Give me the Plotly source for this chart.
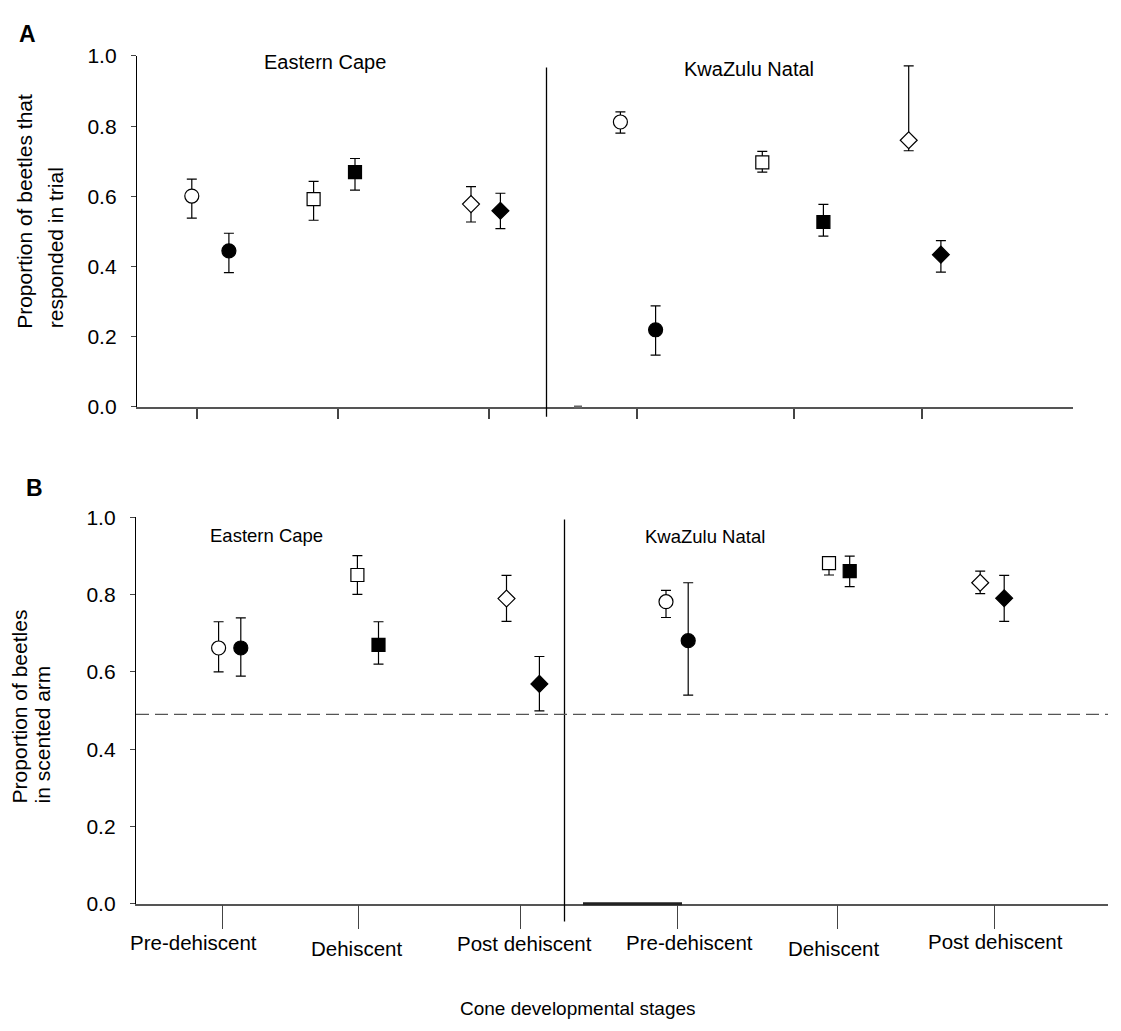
import plotly.graph_objects as go

# ---------------------------------------------------------------
# Data
# ---------------------------------------------------------------
stages = ["Pre-dehiscent", "Dehiscent", "Post dehiscent"]
regions = ["Eastern Cape", "KwaZulu Natal"]

# Point order: for each region, for each stage -> open symbol, filled symbol
# Panel A: proportion of beetles that responded in trial
resp_mean = [0.601, 0.445, 0.592, 0.669, 0.578, 0.559,
             0.812, 0.220, 0.697, 0.527, 0.760, 0.434]
resp_upper = [0.649, 0.495, 0.643, 0.708, 0.628, 0.609,
              0.841, 0.288, 0.728, 0.577, 0.972, 0.474]
resp_lower = [0.538, 0.383, 0.532, 0.618, 0.527, 0.508,
              0.780, 0.148, 0.669, 0.487, 0.730, 0.384]

# Panel B: proportion of beetles in scented arm
scent_mean = [0.662, 0.662, 0.851, 0.670, 0.790, 0.569,
              0.782, 0.681, 0.882, 0.861, 0.831, 0.791]
scent_upper = [0.730, 0.740, 0.901, 0.730, 0.850, 0.640,
               0.811, 0.831, 0.899, 0.900, 0.861, 0.850]
scent_lower = [0.600, 0.589, 0.801, 0.620, 0.731, 0.499,
               0.741, 0.540, 0.851, 0.821, 0.803, 0.731]

chance_level = 0.49
y_ticks = [0.0, 0.2, 0.4, 0.6, 0.8, 1.0]
y_tick_labels = ["0.0", "0.2", "0.4", "0.6", "0.8", "1.0"]

# ---------------------------------------------------------------
# Layout helpers
# ---------------------------------------------------------------
W, H = 1121, 1031
FONT = "Liberation Sans, Arial, Helvetica, sans-serif"


def fx(x):
    return x / W


def fy(y):
    return 1 - y / H


# horizontal placement on each panel's x axis (axis units)
pos_a = [19.18, 22.89, 31.36, 35.50, 47.10, 50.04,
         62.04, 65.56, 76.23, 82.34, 90.87, 94.09]
pos_b = [21.86, 24.08, 35.74, 37.85, 50.65, 53.94,
         66.60, 68.82, 82.90, 84.97, 98.02, 100.42]
ticks_a = [19.73, 33.75, 48.86, 63.67, 79.42, 92.17]
ticks_b = [22.24, 35.89, 52.09, 67.78, 83.72, 99.48]
divider_a = 54.65
divider_b = 56.45

symbols = ["circle", "circle", "square", "square", "diamond", "diamond"] * 2
fills = ["white", "black"] * 6
sizes = [14, 14, 13, 13, 13, 13] * 2


def panel_trace(x, mean, upper, lower, xa, ya):
    return go.Scatter(
        x=x, y=mean, mode="markers", xaxis=xa, yaxis=ya,
        showlegend=False, cliponaxis=False, hoverinfo="skip",
        marker=dict(symbol=symbols, color=fills, size=sizes, opacity=1,
                    line=dict(color="black", width=1.2)),
        error_y=dict(type="data", symmetric=False,
                     array=[u - m for u, m in zip(upper, mean)],
                     arrayminus=[m - l for m, l in zip(mean, lower)],
                     color="black", thickness=1.2, width=5),
    )


fig = go.Figure()
fig.add_trace(panel_trace(pos_a, resp_mean, resp_upper, resp_lower, "x", "y"))
fig.add_trace(panel_trace(pos_b, scent_mean, scent_upper, scent_lower, "x2", "y2"))

common_y = dict(range=[0, 1], tickvals=y_ticks, ticktext=y_tick_labels,
                ticks="outside", ticklen=5, tickwidth=1.3, tickcolor="#444",
                showline=True, linecolor="black", linewidth=1.3,
                showgrid=False, zeroline=False, ticklabelstandoff=10,
                tickfont=dict(family=FONT, size=21, color="black"))

fig.update_layout(
    width=W, height=H,
    margin=dict(l=0, r=0, t=0, b=0),
    paper_bgcolor="white", plot_bgcolor="white",
    showlegend=False,
    font=dict(family=FONT, color="black"),
    xaxis=dict(domain=[fx(137), fx(1073)], range=[13.7, 107.3], anchor="y",
               tickvals=ticks_a, ticks="outside", ticklen=10, tickwidth=1.5,
               tickcolor="#444", showticklabels=False, showline=True,
               linecolor="#555", linewidth=1.5, showgrid=False, zeroline=False),
    yaxis=dict(domain=[fy(404), fy(45)], anchor="x", **common_y),
    xaxis2=dict(domain=[fx(136), fx(1108)], range=[13.6, 110.8], anchor="y2",
                tickvals=ticks_b, ticks="outside", ticklen=24, tickwidth=1.3,
                tickcolor="#444", showticklabels=False, showline=True,
                linecolor="#555", linewidth=1.5, showgrid=False, zeroline=False),
    yaxis2=dict(domain=[fy(912), fy(517)], anchor="x2", **common_y),
)

shapes = [
    # region dividers
    dict(type="line", xref="x", yref="y domain", x0=divider_a, x1=divider_a,
         y0=-0.028, y1=0.967, line=dict(color="black", width=1.3)),
    dict(type="line", xref="x2", yref="y2 domain", x0=divider_b, x1=divider_b,
         y0=-0.046, y1=0.995, line=dict(color="black", width=1.3)),
    # chance level
    dict(type="line", xref="x2 domain", yref="y2", x0=0, x1=1,
         y0=chance_level, y1=chance_level,
         line=dict(color="#555", width=1.3, dash="13px,6px")),
    # darker baseline stubs
    dict(type="line", xref="x", yref="y domain", x0=57.4, x1=58.2, y0=0, y1=0,
         line=dict(color="#666", width=3)),
    dict(type="line", xref="x2", yref="y2 domain", x0=58.3, x1=68.2, y0=0, y1=0,
         line=dict(color="#222", width=3)),
]
fig.update_layout(shapes=shapes)


def label(text, x, y, size, bold=False):
    return dict(text=f"<b>{text}</b>" if bold else text, xref="paper", yref="paper",
                x=fx(x), y=fy(y), xanchor="center", yanchor="middle",
                showarrow=False, font=dict(family=FONT, size=size, color="black"))


ann = [
    label("A", 27.5, 22, 23, bold=True),
    label("B", 34.5, 486.5, 23, bold=True),
    label(regions[0], 324.6, 51, 20),
    label(regions[1], 749, 58.5, 20),
    label(regions[0], 266, 535, 18.5),
    label(regions[1], 705, 536, 18.5),
    label("Cone developmental stages", 578, 1019, 19),
]

stage_x = [193.4, 356.7, 524.8, 689.3, 833.1, 995.1]
stage_y = [952, 958, 953, 952, 958, 951]
for i, (sx, sy) in enumerate(zip(stage_x, stage_y)):
    ann.append(label(stages[i % 3], sx, sy, 20.5))

# rotated y-axis titles, lines aligned at their start
for text, x, bottom in [("Proportion of beetles that", 24.6, 326),
                        ("responded in trial", 55, 326),
                        ("Proportion of beetles", 19.5, 812),
                        ("in scented arm", 42.5, 812)]:
    ann.append(dict(text=text, xref="paper", yref="paper", x=fx(x), y=fy(bottom),
                    xanchor="center", yanchor="bottom", textangle=-90,
                    showarrow=False, font=dict(family=FONT, size=21, color="black")))

fig.update_layout(annotations=ann)

fig.write_html("out.html")
